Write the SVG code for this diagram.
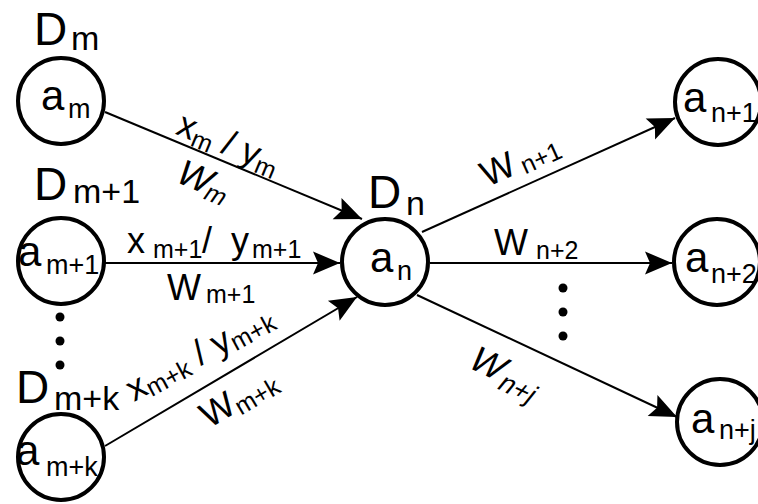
<svg xmlns="http://www.w3.org/2000/svg" width="758" height="504" viewBox="0 0 758 504">
<style>
text{font-family:"Liberation Sans",Arial,sans-serif;fill:#000}
.node{fill:#fff;stroke:#000;stroke-width:4}
.edge{fill:none;stroke:#000;stroke-width:2}
.big{font-size:46px}
.bsub{font-size:34px}
.na{font-size:42px}
.nsub{font-size:27px}
.el{font-size:36px}
.es{font-size:25px}
.es2{font-size:27px}
.dot{fill:#000}
</style>
<defs>
<marker id="arr" markerUnits="userSpaceOnUse" markerWidth="30" markerHeight="30" viewBox="-30 -15 30 30" refX="0" refY="0" orient="auto" overflow="visible">
<path d="M0,0 L-27,-11.5 L-22,0 L-27,11.5 Z" fill="#000"/>
</marker>
</defs>
<rect width="758" height="504" fill="#fff"/>
<g id="connectors">
<line class="edge" x1="105" y1="112" x2="362" y2="219" marker-end="url(#arr)"/>
<line class="edge" x1="105" y1="263" x2="340" y2="263" marker-end="url(#arr)"/>
<line class="edge" x1="105" y1="446" x2="357" y2="297" marker-end="url(#arr)"/>
<line class="edge" x1="422" y1="232" x2="675" y2="118" marker-end="url(#arr)"/>
<line class="edge" x1="430" y1="263" x2="672" y2="263" marker-end="url(#arr)"/>
<line class="edge" x1="417" y1="295" x2="677" y2="417" marker-end="url(#arr)"/>
<text class="el" transform="translate(222,159.8) rotate(22.57)" text-anchor="middle" y="-6">x<tspan class="es" dy="5">m</tspan><tspan dy="-5"> / </tspan>y<tspan class="es" dy="5">m</tspan></text>
<text class="el" transform="translate(213,156.1) rotate(22.57) skewX(-12)" text-anchor="middle" x="8" y="38">W<tspan class="es" dy="5">m</tspan></text>
<text class="el" x="127" y="253">x<tspan class="es" x="153" y="258">m+1</tspan><tspan x="202" y="253">/</tspan><tspan x="231" y="253">y</tspan><tspan class="es" x="252" y="258">m+1</tspan></text>
<text class="el" x="167" y="300">W<tspan class="es" x="206" y="303">m+1</tspan></text>
<text class="el" transform="translate(134,402) rotate(-28.5)" x="0" y="0">x<tspan class="es" dy="4">m+k</tspan><tspan dy="-4"> / </tspan>y<tspan class="es" dy="4">m+k</tspan></text>
<text class="el" transform="translate(225,375.3) rotate(-30.6)" text-anchor="middle" y="38">W<tspan class="es" dy="5">m+k</tspan></text>
<text class="el" transform="translate(530.5,183.1) rotate(-24.25)" text-anchor="middle" y="-14">W<tspan class="es" dx="6" dy="4">n+1</tspan></text>
<text class="el" x="494" y="255">W<tspan class="es" x="536" y="259">n+2</tspan></text>
<text class="el" transform="translate(519,342.8) rotate(25.1) skewX(-14)" text-anchor="middle" x="10" y="44">W<tspan class="es2" dx="4" dy="7">n+j</tspan></text>
</g>
<g id="dots-left">
<circle class="dot" cx="60" cy="317" r="4.5"/>
<circle class="dot" cx="60" cy="341" r="4.5"/>
<circle class="dot" cx="60" cy="365" r="4.5"/>
</g>
<g id="dots-right">
<circle class="dot" cx="563" cy="288" r="4.5"/>
<circle class="dot" cx="563" cy="312" r="4.5"/>
<circle class="dot" cx="563" cy="336" r="4.5"/>
</g>
<g id="node-am">
<circle class="node" cx="61" cy="101" r="43"/>
<text class="na" x="41" y="110">a<tspan class="nsub" x="68" y="118">m</tspan></text>
<text class="big" x="34" y="45">D<tspan class="bsub" x="71" y="50">m</tspan></text>
</g>
<g id="node-am1">
<circle class="node" cx="61" cy="261" r="43"/>
<text class="na" x="18" y="266">a<tspan class="nsub" x="46" y="274">m+1</tspan></text>
<text class="big" x="34" y="200">D<tspan class="bsub" x="73" y="203">m+1</tspan></text>
</g>
<g id="node-amk">
<circle class="node" cx="61" cy="457" r="43"/>
<text class="na" x="16" y="465">a<tspan class="nsub" x="46" y="476">m+k</tspan></text>
<text class="big" x="16" y="403">D<tspan class="bsub" x="54" y="410">m+k</tspan></text>
</g>
<g id="node-an">
<circle class="node" cx="385" cy="262" r="43"/>
<text class="na" x="370" y="272">a<tspan class="nsub" x="397" y="280">n</tspan></text>
<text class="big" x="368" y="208">D<tspan class="bsub" x="406" y="215">n</tspan></text>
</g>
<g id="node-an1">
<circle class="node" cx="718" cy="102" r="43"/>
<text class="na" x="683" y="112">a<tspan class="nsub" x="711" y="122">n+1</tspan></text>
</g>
<g id="node-an2">
<circle class="node" cx="717" cy="262" r="43"/>
<text class="na" x="685" y="272">a<tspan class="nsub" x="711" y="283">n+2</tspan></text>
</g>
<g id="node-anj">
<circle class="node" cx="720" cy="422" r="43"/>
<text class="na" x="691" y="433">a<tspan class="nsub" x="719" y="439">n+j</tspan></text>
</g>
</svg>
